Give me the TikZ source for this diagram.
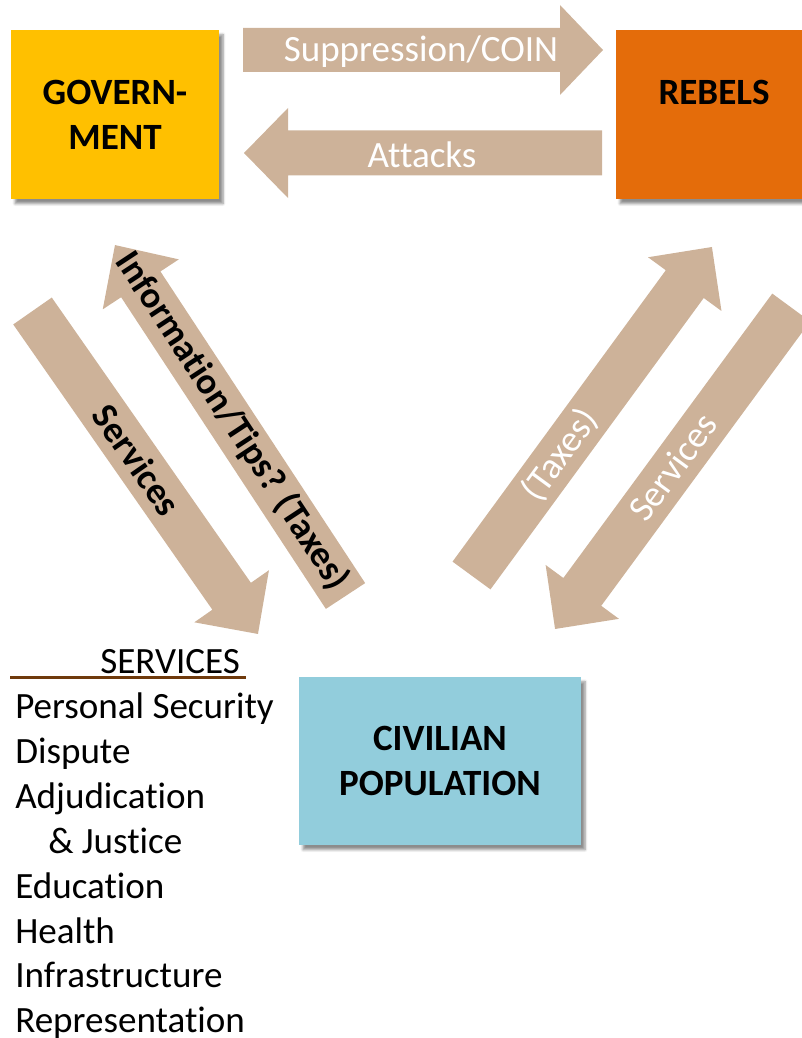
\documentclass[tikz,border=0pt]{standalone}
\usepackage{fontspec}
\setmainfont{Carlito}[Ligatures=NoCommon]
\usetikzlibrary{shadows.blur}
\definecolor{govyellow}{HTML}{FFC000}
\definecolor{rebelorange}{HTML}{E46C0A}
\definecolor{civblue}{HTML}{92CDDC}
\definecolor{arrowtan}{RGB}{205,178,153}
\definecolor{linebrown}{HTML}{6F3A0C}
% #1 tail coordinate, #2 angle, #3 length, #4 shaft half width, #5 head half width, #6 head length, #7 tip name
\newcommand\blockarrow[7]{%
  \begin{scope}[shift={(#1)}, rotate=#2]
    \fill[arrowtan] (0,-#4) -- ({#3-#6},-#4) -- ({#3-#6},-#5) -- (#3,0) -- ({#3-#6},#5) -- ({#3-#6},#4) -- (0,#4) -- cycle;
    \coordinate (#7) at (#3,0);
  \end{scope}}
\begin{document}
\begin{tikzpicture}[x=0.75pt,y=-0.75pt,
  box/.style={draw=none, inner sep=0pt, blur shadow={shadow xshift=3pt, shadow yshift=-3.5pt, shadow blur steps=6, shadow opacity=45}},
  lbl/.style={font=\fontsize{27.8}{33}\selectfont, inner sep=0pt},
  blbl/.style={font=\fontsize{27.8}{33}\selectfont\bfseries, inner sep=0pt},
  wlbl/.style={lbl, text=white},
  item/.style={lbl, anchor=base west}
]
\useasboundingbox (0,0) rectangle (802,1038);
\clip (0,0) rectangle (802,1038);

% arrow tails
\coordinate (suptail) at (243,50);
\coordinate (atttail) at (602,153);
\coordinate (svltail) at (32.5,311);
\coordinate (inftail) at (345.5,596);
\coordinate (taxtail) at (471.5,575.5);
\coordinate (svrtail) at (791.2,307.5);

\blockarrow{suptail}{0}{360}{22}{45}{43}{suptip}
\blockarrow{atttail}{180}{358}{22.5}{45}{44}{atttip}
\blockarrow{svltail}{-55.08}{393.9}{23.5}{45.5}{46}{svltip}
\blockarrow{inftail}{123.3}{419.9}{23.5}{45.5}{47}{inftip}
\blockarrow{taxtail}{53.8}{407.1}{23.5}{45.5}{46}{taxtip}
\blockarrow{svrtail}{233.7}{398.9}{23.5}{45.5}{46}{svrtip}

% boxes
\node[box, fill=govyellow, minimum width=156pt, minimum height=126.75pt] (gov) at (115,114.5) {};
\node[box, fill=rebelorange, minimum width=147pt, minimum height=126.75pt] (reb) at (714,114.5) {};
\node[box, fill=civblue, minimum width=211.5pt, minimum height=126pt] (civ) at (440,761) {};

% box texts
\node[blbl, anchor=base] (gov1) at (115,105) {GOVERN-};
\node[blbl, anchor=base] (gov2) at (115,150) {MENT};
\node[blbl, anchor=base] (reb1) at (714,105) {REBELS};
\node[blbl, anchor=base] (civ1) at (440,750) {CIVILIAN};
\node[blbl, anchor=base] (civ2) at (440,795) {POPULATION};

% arrow labels
\node[wlbl, anchor=base] (supl) at (421,62) {Suppression/COIN};
\node[wlbl, anchor=base] (attl) at (422,167) {Attacks};
\node[blbl, rotate=-55.1] (svll) at (137,460) {Services};
\node[blbl, rotate=-56.7] (infl) at (232.5,421) {Information/Tips? (Taxes)};
\node[wlbl, rotate=53.8] (taxl) at (560,455) {(Taxes)};
\node[wlbl, rotate=53.7] (svrl) at (673,467) {Services};

% services list
\coordinate (ul1) at (10,677);
\coordinate (ul2) at (246,677);
\draw[linebrown, line width=2.25pt] (ul1) -- (ul2);
\node[item] (sh) at (100,673) {SERVICES};
\node[item] (s1) at (15,718) {Personal Security};
\node[item] (s2) at (15,763) {Dispute};
\node[item] (s3) at (15,808) {Adjudication};
\node[item] (s4) at (48,853) {\& Justice};
\node[item] (s5) at (15,898) {Education};
\node[item] (s6) at (15,943) {Health};
\node[item] (s7) at (15,987) {Infrastructure};
\node[item] (s8) at (15,1032) {Representation};
\end{tikzpicture}
\end{document}
